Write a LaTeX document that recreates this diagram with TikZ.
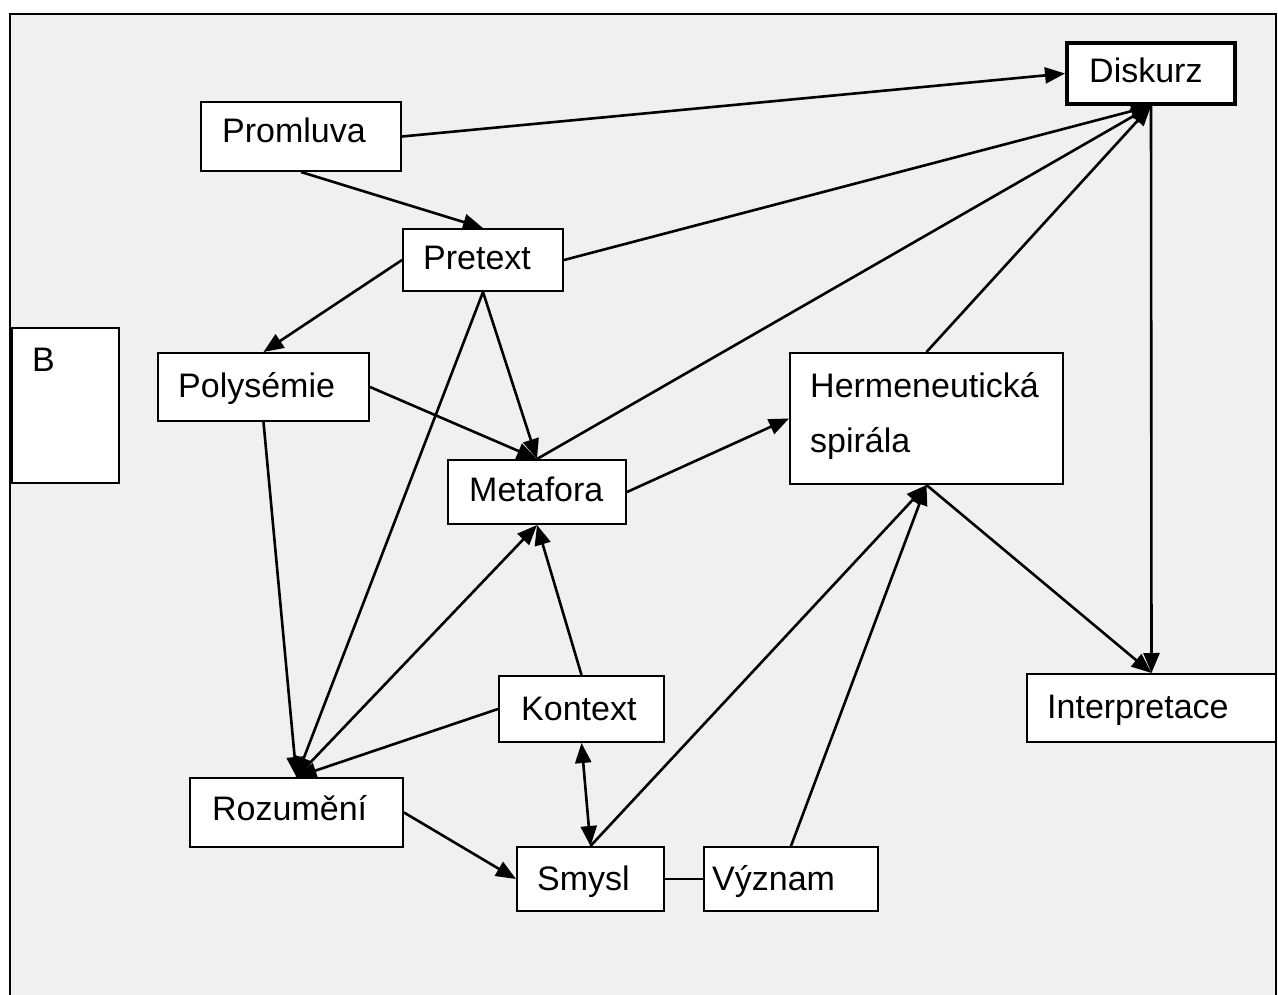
\documentclass[tikz,border=0pt]{standalone}
\usepackage{fontspec}
\setmainfont{Liberation Sans}
\usetikzlibrary{arrows.meta}
\definecolor{panel}{RGB}{240,240,240}
\tikzset{
  box/.style={draw, fill=white, line width=2pt, inner sep=0pt, anchor=north west},
  lbl/.style={anchor=base west, inner sep=0pt, font=\fontsize{34}{40}\selectfont},
  link/.style={line width=2.6pt},
  tip/.tip={Triangle[length=20pt,width=16pt]},
  arr/.style={link, -tip},
  both/.style={link, tip-tip},
}
\begin{document}
\begin{tikzpicture}[x=1pt,y=-1pt]
\useasboundingbox (0,0) rectangle (1278,995);
% grey panel, open at the bottom
\begin{scope}
  \clip (0,0) rectangle (1278,995);
  \draw[fill=panel, line width=2.5pt] (10,14) rectangle (1276,1010);
\end{scope}

% boxes
\node[box, minimum width=200pt, minimum height=69pt] (promluva) at (200,101) {};
\node[box, line width=4pt, minimum width=168pt, minimum height=61pt] (diskurz) at (1065,41) {};
\node[box, minimum width=160pt, minimum height=62pt] (pretext) at (402,228) {};
\node[box, minimum width=211pt, minimum height=68pt] (polysemie) at (157,352) {};
\node[box, minimum width=178pt, minimum height=64pt] (metafora) at (447,459) {};
\node[box, minimum width=273pt, minimum height=131pt] (herm) at (789,352) {};
\node[box, minimum width=165pt, minimum height=66pt] (kontext) at (498,675) {};
\node[box, minimum width=147pt, minimum height=64pt] (smysl) at (516,846) {};
\node[box, minimum width=174pt, minimum height=64pt] (vyznam) at (703,846) {};
\node[box, minimum width=213pt, minimum height=69pt] (rozumeni) at (189,777) {};
\node[box, minimum width=249pt, minimum height=68pt] (interp) at (1026,673) {};
\node[box, minimum width=107pt, minimum height=155pt] (bbox) at (11,327) {};

% texts
\node[lbl] (t-promluva) at (222,143) {Promluva};
\node[lbl] (t-diskurz) at (1089,83) {Diskurz};
\node[lbl] (t-pretext) at (423,270) {Pretext};
\node[lbl] (t-polysemie) at (178,397) {Polysémie};
\node[lbl] (t-metafora) at (469,501) {Metafora};
\node[lbl] (t-herm1) at (810,397) {Hermeneutická};
\node[lbl] (t-herm2) at (810,452) {spirála};
\node[lbl] (t-kontext) at (521,720) {Kontext};
\node[lbl] (t-smysl) at (537,890) {Smysl};
\node[lbl] (t-vyznam) at (712,890) {Význam};
\node[lbl] (t-rozumeni) at (212,820) {Rozumění};
\node[lbl] (t-interp) at (1047,718) {Interpretace};
\node[lbl] (t-b) at (32,371) {B};

% connectors
\draw[arr] (promluva.east) -- (diskurz.west);
\draw[arr] (promluva.south) -- (pretext.north);
\draw[arr] (pretext.east) -- (diskurz.south);
\draw[arr] (metafora.north) -- (diskurz.south);
\draw[arr] (herm.north) -- (diskurz.south);
\draw[arr] (diskurz.south) -- (interp.north);
\draw[arr] (pretext.west) -- (polysemie.north);
\draw[arr] (pretext.south) -- (rozumeni.north);
\draw[arr] (pretext.south) -- (metafora.north);
\draw[arr] (polysemie.east) -- (metafora.north);
\draw[arr] (polysemie.south) -- (rozumeni.north);
\draw[arr] (metafora.east) -- (herm.west);
\draw[arr] (rozumeni.north) -- (metafora.south);
\draw[arr] (kontext.north) -- (metafora.south);
\draw[arr] (kontext.west) -- (rozumeni.north);
\draw[both] (kontext.south) -- (smysl.north);
\draw[arr] (smysl.north) -- (herm.south);
\draw[arr] (vyznam.north) -- (herm.south);
\draw[arr] (herm.south) -- (interp.north);
\draw[arr] (rozumeni.east) -- (smysl.west);
\draw[link] (smysl.east) -- (vyznam.west);
\end{tikzpicture}
\end{document}
